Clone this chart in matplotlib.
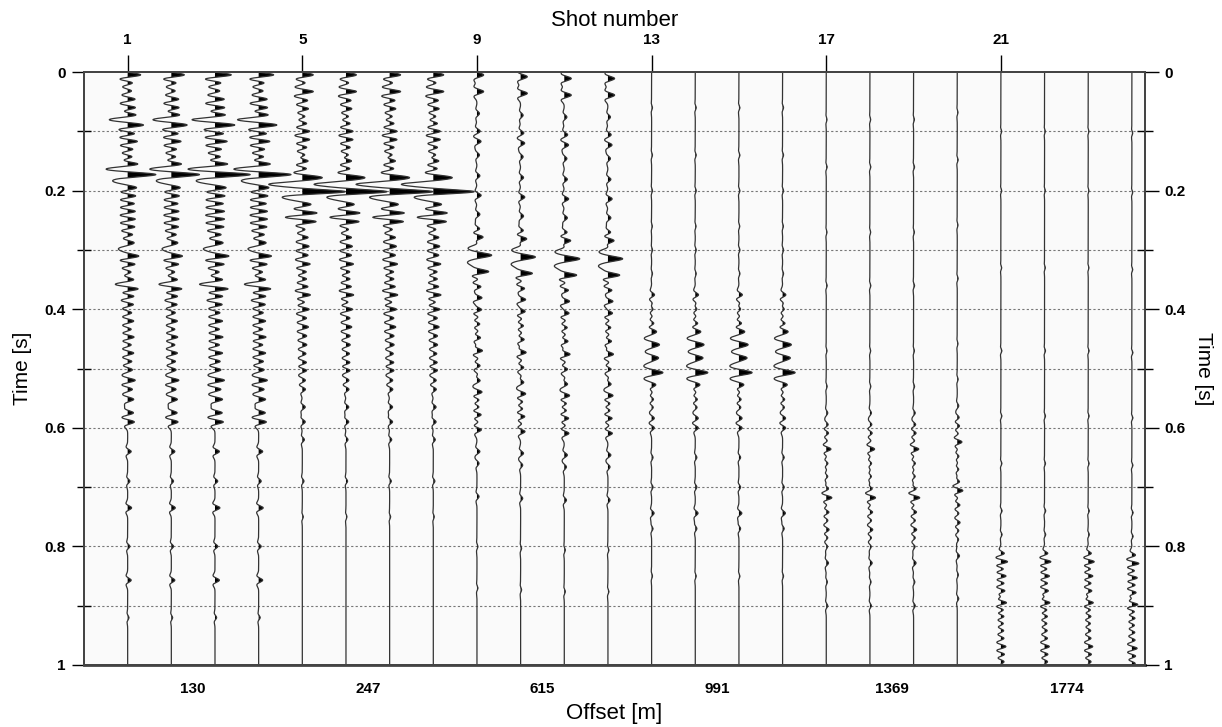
import numpy as np
import matplotlib
matplotlib.use("Agg")
import matplotlib.pyplot as plt
from matplotlib.ticker import FixedLocator

plt.rcParams['font.family'] = ['Liberation Sans', 'DejaVu Sans']

# Offsets de cada grupo de 4 tiros e numeros de tiro marcados no topo
offsets = [130, 247, 615, 991, 1369, 1774]
shot_ticks = [1, 5, 9, 13, 17, 21]

# Eventos (tempo [s], amplitude relativa)
ev_130_t = [0.005, 0.018, 0.032, 0.046, 0.060, 0.072, 0.080, 0.090, 0.104, 0.117, 0.130, 0.143,
            0.155, 0.163, 0.173, 0.185, 0.196, 0.209, 0.222, 0.235, 0.248, 0.261, 0.274, 0.287,
            0.298, 0.311, 0.324, 0.337, 0.350, 0.358, 0.366, 0.378, 0.392, 0.406, 0.420, 0.434,
            0.447, 0.460, 0.474, 0.488, 0.502, 0.520, 0.535, 0.552, 0.575, 0.590, 0.640, 0.690,
            0.735, 0.800, 0.857, 0.920]
ev_130_a = [0.16, 0.08, 0.06, 0.10, 0.11, 0.06, -0.13, 0.14, 0.11, 0.14, 0.09, 0.08,
            0.09, -0.10, 0.27, -0.08, 0.09, 0.12, 0.11, 0.12, 0.12, 0.11, 0.08, 0.06,
            -0.07, 0.13, 0.11, 0.06, 0.05, -0.07, 0.11, 0.10, 0.08, 0.06, 0.08, 0.06,
            0.09, 0.06, 0.08, 0.06, 0.06, 0.09, 0.06, 0.07, 0.07, 0.08, 0.04, 0.025,
            0.045, 0.025, 0.04, 0.015]

ev_247_t = [0.005, 0.018, 0.033, 0.048, 0.062, 0.075, 0.087, 0.100, 0.114, 0.127, 0.140, 0.150,
            0.163, 0.177, 0.189, 0.202, 0.214, 0.224, 0.238, 0.245, 0.252, 0.265, 0.279, 0.294,
            0.309, 0.324, 0.337, 0.349, 0.362, 0.376, 0.388, 0.400, 0.415, 0.430, 0.445, 0.460,
            0.475, 0.490, 0.503, 0.520, 0.535, 0.565, 0.590, 0.620, 0.690, 0.750]
ev_247_a = [0.14, 0.06, 0.14, 0.08, 0.09, 0.06, 0.08, 0.11, 0.11, 0.08, 0.08, 0.11,
            0.08, 0.17, -0.30, 0.46, -0.07, 0.09, 0.17, -0.07, 0.16, 0.06, 0.08, 0.09,
            0.08, 0.11, 0.08, 0.08, 0.09, 0.12, 0.07, 0.10, 0.06, 0.08, 0.06, 0.06,
            0.05, 0.06, 0.06, 0.04, 0.04, 0.035, 0.035, 0.025, 0.02, 0.012]

ev_615_t = [0.005, 0.033, 0.070, 0.100, 0.117, 0.140, 0.175, 0.208, 0.240, 0.265, 0.278, 0.296,
            0.309, 0.322, 0.337, 0.349, 0.362, 0.372, 0.381, 0.392, 0.401, 0.413, 0.425, 0.437,
            0.448, 0.460, 0.470, 0.483, 0.495, 0.510, 0.520, 0.540, 0.553, 0.565, 0.578, 0.590,
            0.603, 0.640, 0.660, 0.716, 0.800, 0.870]
ev_615_a = [0.08, 0.08, 0.03, 0.04, 0.05, 0.03, 0.035, 0.05, 0.035, 0.045, 0.08, -0.07,
            0.15, -0.07, 0.15, 0.06, 0.08, 0.05, 0.10, 0.05, 0.09, 0.05, 0.06, 0.05,
            0.07, 0.04, 0.09, 0.04, 0.05, 0.03, 0.05, 0.07, 0.05, 0.05, 0.07, 0.04,
            0.06, 0.035, 0.025, 0.025, 0.012, 0.012]

ev_991_t = [0.060, 0.140, 0.200, 0.260, 0.300, 0.340, 0.376, 0.390, 0.400, 0.412, 0.424, 0.437,
            0.449, 0.460, 0.472, 0.482, 0.495, 0.507, 0.518, 0.528, 0.540, 0.552, 0.565, 0.584,
            0.600, 0.650, 0.700, 0.744, 0.770, 0.850]
ev_991_a = [0.012, 0.012, 0.012, 0.01, 0.012, 0.012, 0.045, 0.03, 0.04, 0.03, 0.05, 0.06,
            -0.06, 0.08, -0.04, 0.07, -0.06, 0.13, -0.04, 0.05, 0.03, 0.04, 0.03, 0.04,
            0.04, 0.02, 0.02, 0.035, 0.02, 0.012]

ev_1369_t = [0.080, 0.160, 0.270, 0.360, 0.470, 0.530, 0.575, 0.595, 0.609, 0.622, 0.636, 0.648,
             0.660, 0.671, 0.682, 0.693, 0.703, 0.718, 0.730, 0.742, 0.756, 0.772, 0.785, 0.800,
             0.828, 0.860, 0.900]
ev_1369_a = [0.01, 0.012, 0.01, 0.012, 0.01, 0.012, 0.02, 0.03, 0.04, 0.03, 0.075, 0.03,
             0.04, 0.03, 0.04, 0.03, 0.05, 0.09, 0.04, 0.05, 0.03, 0.045, 0.03, 0.02,
             0.03, 0.015, 0.02]

ev_1774_t = [0.100, 0.200, 0.330, 0.470, 0.580, 0.660, 0.740, 0.780, 0.812, 0.826, 0.838, 0.850,
             0.862, 0.875, 0.885, 0.895, 0.907, 0.918, 0.930, 0.942, 0.955, 0.969, 0.982, 0.994]
ev_1774_a = [0.008, 0.008, 0.008, 0.01, 0.01, 0.01, 0.012, 0.012, 0.04, 0.08, 0.05, 0.07,
             0.05, 0.06, 0.04, 0.08, 0.05, 0.05, 0.04, 0.04, 0.04, 0.06, 0.05, 0.04]

# frequencia dominante (Hz) e escala de cada grupo
freq_grupo = [48, 48, 45, 45, 45, 50]
escala_grupo = [2.0, 1.9, 1.9, 1.8, 1.7, 2.2]

# ganho e deslocamento em tempo de cada traco (24 tiros)
ganho = [1.0, 1.0, 1.25, 1.15,
         1.0, 0.95, 1.0, 0.95,
         1.0, 1.0, 1.05, 1.0,
         0.9, 1.0, 1.05, 1.0,
         1.0, 1.0, 1.1, 1.0,
         1.0, 0.95, 0.9, 1.05]
desloc = [0, 0, 0, 0,
          0, 0, 0, 0,
          0, 0.003, 0.006, 0.006,
          0, 0, 0, 0,
          0, 0, 0, -0.012,
          0, 0, 0, 0.003]

eventos = [(ev_130_t, ev_130_a), (ev_247_t, ev_247_a), (ev_615_t, ev_615_a),
           (ev_991_t, ev_991_a), (ev_1369_t, ev_1369_a), (ev_1774_t, ev_1774_a)]


def ricker(tau, f):
    arg = (np.pi * f * tau) ** 2
    return (1 - 2 * arg) * np.exp(-arg)


t = np.linspace(0, 1, 4001)

fig = plt.figure(figsize=(12.22, 7.27), dpi=100)
ax = fig.add_axes([84 / 1222, 1 - 665 / 727, (1145 - 84) / 1222, (665 - 72) / 727])
ax.set_facecolor('#fafafa')

for i in range(24):
    g = i // 4
    tt, aa = eventos[g]
    s = np.zeros_like(t)
    for t0, a in zip(tt, aa):
        s += a * ricker(t - t0 - desloc[i], freq_grupo[g])
    pos = i + 1
    x = pos + escala_grupo[g] * ganho[i] * s
    ax.fill_betweenx(t, pos, x, where=x > pos, color='black', interpolate=True, lw=0)
    ax.plot(x, t, color='#333333', lw=0.9)

ax.set_xlim(0, 24.3)
ax.set_ylim(1, 0)

# grade horizontal pontilhada
for yv in np.arange(0.1, 0.95, 0.1):
    ax.axhline(yv, color='#777777', lw=0.8, ls=(0, (2, 2)), zorder=0)

# eixo esquerdo
ax.set_yticks([0, 0.2, 0.4, 0.6, 0.8, 1.0])
ax.set_yticklabels(['0', '0.2', '0.4', '0.6', '0.8', '1'], fontweight='bold', fontsize=11)
ax.yaxis.set_minor_locator(FixedLocator([0.1, 0.3, 0.5, 0.7, 0.9]))
ax.tick_params(axis='y', which='major', direction='out', length=9, width=1, pad=4)
ax.tick_params(axis='y', which='minor', direction='inout', length=10, width=1)
ax.set_ylabel('Time [s]', fontsize=15, labelpad=9)

# eixo inferior: offsets
ax.set_xticks([2.5, 6.5, 10.5, 14.5, 18.5, 22.5])
ax.set_xticklabels([str(o) for o in offsets], fontweight='bold', fontsize=11)
ax.tick_params(axis='x', length=0, pad=12)
ax.set_xlabel('Offset [m]', fontsize=16, labelpad=5)

# eixo superior: numero do tiro
axt = ax.twiny()
axt.set_xlim(ax.get_xlim())
axt.set_xticks(shot_ticks)
axt.set_xticklabels([str(s) for s in shot_ticks], fontweight='bold', fontsize=11)
axt.tick_params(axis='x', direction='out', length=12, width=1, pad=6)
axt.set_xlabel('Shot number', fontsize=16, labelpad=5)

# eixo direito
axr = ax.twinx()
axr.set_ylim(1, 0)
axr.set_yticks([0, 0.2, 0.4, 0.6, 0.8, 1.0])
axr.set_yticklabels(['0', '0.2', '0.4', '0.6', '0.8', '1'], fontweight='bold', fontsize=11)
axr.yaxis.set_minor_locator(FixedLocator([0.1, 0.3, 0.5, 0.7, 0.9]))
axr.tick_params(axis='y', which='major', direction='out', length=10, width=1, pad=4)
axr.tick_params(axis='y', which='minor', direction='inout', length=12, width=1)
axr.set_ylabel('Time [s]', fontsize=15, rotation=270, labelpad=20)

for a in (ax, axt, axr):
    for sp in a.spines.values():
        sp.set_color('#444444')
        sp.set_linewidth(1.2)
ax.spines['bottom'].set_linewidth(2)

fig.savefig('out.png', dpi=100)
